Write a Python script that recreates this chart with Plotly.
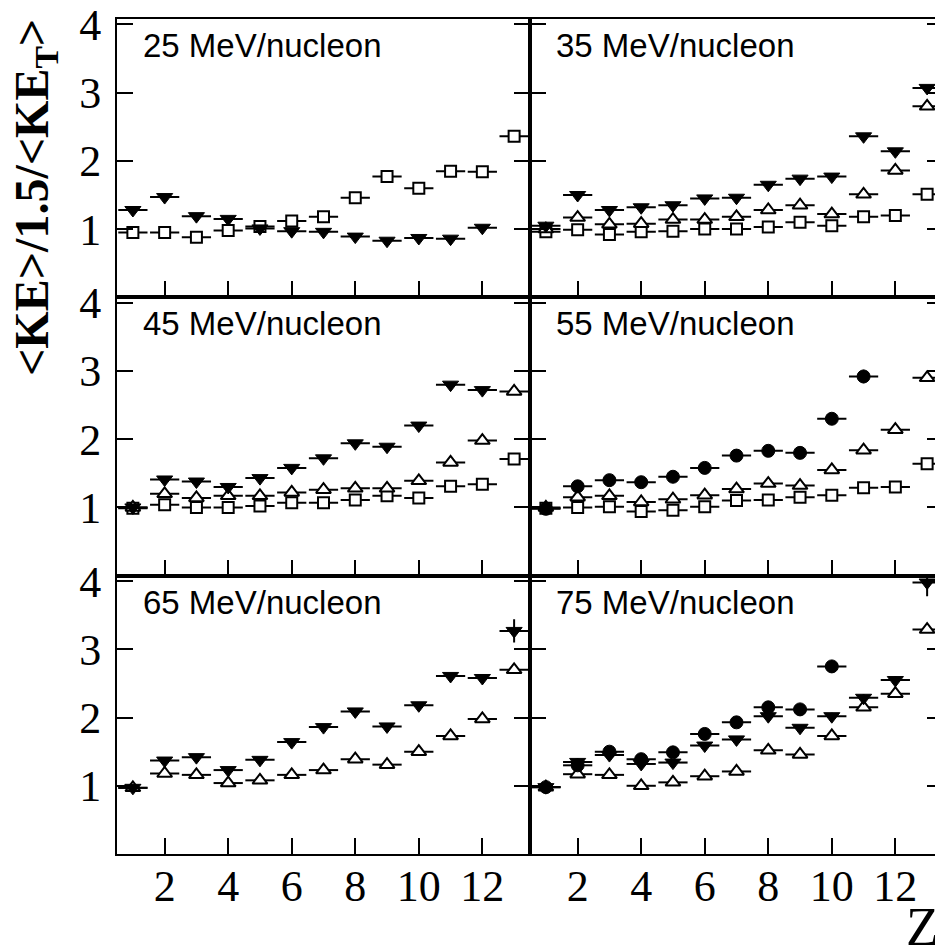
import plotly.graph_objects as go
from plotly.subplots import make_subplots

Z = list(range(1, 14))
x_ticks = [2, 4, 6, 8, 10, 12]
y_ticks = [1, 2, 3, 4]

panel_titles = ["25 MeV/nucleon", "35 MeV/nucleon", "45 MeV/nucleon",
                "55 MeV/nucleon", "65 MeV/nucleon", "75 MeV/nucleon"]

# 25 MeV
e25_down = [1.28, 1.47, 1.19, 1.15, 1.01, 0.97, 0.96, 0.89, 0.83, 0.87, 0.86, 1.02]
e25_sq = [0.95, 0.95, 0.88, 0.98, 1.04, 1.12, 1.18, 1.46, 1.77, 1.60, 1.85, 1.84, 2.36]
# 35 MeV
e35_down = [1.05, 1.50, 1.28, 1.32, 1.35, 1.45, 1.46, 1.65, 1.74, 1.77, 2.36, 2.14, 3.07]
e35_up = [1.00, 1.17, 1.07, 1.08, 1.14, 1.14, 1.18, 1.28, 1.35, 1.22, 1.51, 1.86, 2.80]
e35_sq = [0.96, 0.99, 0.92, 0.96, 0.97, 1.00, 1.00, 1.03, 1.10, 1.05, 1.18, 1.20, 1.51]
# 45 MeV
e45_down = [1.00, 1.41, 1.38, 1.30, 1.43, 1.58, 1.72, 1.94, 1.89, 2.20, 2.80, 2.72]
e45_up = [1.00, 1.20, 1.14, 1.17, 1.17, 1.22, 1.26, 1.28, 1.28, 1.39, 1.66, 1.98, 2.70]
e45_sq = [0.99, 1.04, 1.00, 1.00, 1.02, 1.07, 1.07, 1.11, 1.17, 1.14, 1.31, 1.34, 1.71]
# 55 MeV
e55_circ = [0.98, 1.31, 1.40, 1.37, 1.45, 1.58, 1.76, 1.83, 1.80, 2.30, 2.92]
e55_circ_err = [0.02, 0.02, 0.02, 0.02, 0.02, 0.02, 0.02, 0.02, 0.02, 0.03, 0.10]
e55_up = [1.00, 1.15, 1.17, 1.08, 1.12, 1.18, 1.27, 1.35, 1.32, 1.55, 1.84, 2.14, 2.90]
e55_sq = [0.99, 1.00, 1.01, 0.94, 0.96, 1.01, 1.10, 1.11, 1.15, 1.18, 1.29, 1.30, 1.64]
# 65 MeV
e65_down = [0.97, 1.37, 1.42, 1.23, 1.38, 1.64, 1.86, 2.09, 1.87, 2.18, 2.61, 2.58, 3.27]
e65_down_err = [0.05, 0.03, 0.03, 0.03, 0.03, 0.03, 0.03, 0.03, 0.03, 0.03, 0.03, 0.03, 0.17]
e65_up = [0.97, 1.18, 1.16, 1.04, 1.08, 1.16, 1.23, 1.39, 1.31, 1.50, 1.73, 1.98, 2.70]
# 75 MeV
e75_circ = [0.98, 1.30, 1.50, 1.39, 1.49, 1.76, 1.93, 2.15, 2.12, 2.75]
e75_circ_err = [0.04, 0.03, 0.03, 0.03, 0.03, 0.03, 0.03, 0.03, 0.03, 0.09]
e75_down = [0.98, 1.35, 1.45, 1.32, 1.34, 1.59, 1.68, 2.02, 1.85, 2.02, 2.29, 2.55, 3.98]
e75_down_err = [0.03, 0.05, 0.03, 0.05, 0.05, 0.05, 0.05, 0.03, 0.03, 0.05, 0.05, 0.06, 0.20]
e75_up = [0.98, 1.17, 1.16, 1.00, 1.05, 1.14, 1.21, 1.52, 1.46, 1.73, 2.15, 2.35, 3.29]

# the page body has an 8px margin, so the figure is drawn 8px in from the window corner
OFF = 8
W, H = 943 - OFF, 946 - OFF
ML, MR, MT, MB = 117 - OFF, 0, 19 - OFF, 92

fig = make_subplots(rows=3, cols=2, horizontal_spacing=0, vertical_spacing=0)

STYLES = {
    "down": dict(symbol="triangle-down", size=14, color="black", line=dict(color="black", width=1)),
    "up": dict(symbol="triangle-up", size=13, color="white", line=dict(color="black", width=2)),
    "sq": dict(symbol="square", size=11, color="white", line=dict(color="black", width=2)),
    "circ": dict(symbol="circle", size=13, color="black", line=dict(color="black", width=1)),
}


def add(vals, kind, row, col, yerr=None):
    xs = Z[:len(vals)]
    ey = dict(type="data", array=yerr, visible=True, color="black", thickness=2, width=0) if yerr else dict(visible=False)
    fig.add_trace(go.Scatter(
        x=xs, y=vals, mode="markers", marker=STYLES[kind],
        error_x=dict(type="constant", value=0.46, color="black", thickness=2, width=0),
        error_y=ey, showlegend=False, cliponaxis=True,
    ), row=row, col=col)


add(e25_sq, "sq", 1, 1)
add(e25_down, "down", 1, 1)

add(e35_sq, "sq", 1, 2)
add(e35_up, "up", 1, 2)
add(e35_down, "down", 1, 2)

add(e45_sq, "sq", 2, 1)
add(e45_up, "up", 2, 1)
add(e45_down, "down", 2, 1)

add(e55_sq, "sq", 2, 2)
add(e55_up, "up", 2, 2)
add(e55_circ, "circ", 2, 2, e55_circ_err)

add(e65_up, "up", 3, 1)
add(e65_down, "down", 3, 1, e65_down_err)

add(e75_up, "up", 3, 2)
add(e75_down, "down", 3, 2, e75_down_err)
add(e75_circ, "circ", 3, 2, e75_circ_err)

tick_font = dict(family="Liberation Serif, Times New Roman, serif", size=44, color="black")

for r in range(1, 4):
    for c in range(1, 3):
        fig.update_xaxes(
            range=[0.5, 13.5], tickvals=x_ticks, ticks="inside", ticklen=16, tickwidth=2,
            tickcolor="black", showline=True, linewidth=2, linecolor="black", mirror=True,
            showgrid=False, zeroline=False, showticklabels=(r == 3), tickfont=tick_font,
            ticklabelstandoff=-8, ticklabeloverflow="allow", automargin=False, row=r, col=c)
        fig.update_yaxes(
            range=[0, 4.08], tickvals=y_ticks, ticks="inside", ticklen=16, tickwidth=2,
            tickcolor="black", showline=True, linewidth=2, linecolor="black", mirror="ticks",
            showgrid=False, zeroline=False, showticklabels=(c == 1), tickfont=tick_font,
            ticklabelstandoff=5, ticklabeloverflow="allow", automargin=False, row=r, col=c)

# panel titles
idx = 0
for r in range(1, 4):
    for c in range(1, 3):
        n = (r - 1) * 2 + c
        suffix = "" if n == 1 else str(n)
        fig.add_annotation(
            text=panel_titles[idx], xref=f"x{suffix} domain", yref=f"y{suffix} domain",
            x=0.058, y=0.905, xanchor="left", yanchor="middle", showarrow=False,
            font=dict(family="Liberation Sans, Arial, sans-serif", size=33, color="black"))
        idx += 1

PW = W - ML - MR
PH = H - MT - MB


def px_to_paper(px, py):
    # px, py are window pixels
    return (px - OFF - ML) / PW, (H - MB - (py - OFF)) / PH


tx, ty = px_to_paper(35, 198)
fig.add_annotation(
    text="<b>&lt;KE&gt;/1.5/&lt;KE<sub>T</sub>&gt;</b>", xref="paper", yref="paper",
    x=tx, y=ty, xanchor="center", yanchor="middle", textangle=-90, showarrow=False,
    font=dict(family="Liberation Serif, Times New Roman, serif", size=48, color="black"))

zx, zy = px_to_paper(941, 927)
fig.add_annotation(
    text="Z", xref="paper", yref="paper", x=zx, y=zy, xanchor="right", yanchor="middle",
    showarrow=False,
    font=dict(family="Liberation Serif, Times New Roman, serif", size=54, color="black"))

fig.update_layout(
    width=W, height=H, margin=dict(l=ML, r=MR, t=MT, b=MB),
    paper_bgcolor="white", plot_bgcolor="white", showlegend=False,
)

fig.write_html("out.html")
